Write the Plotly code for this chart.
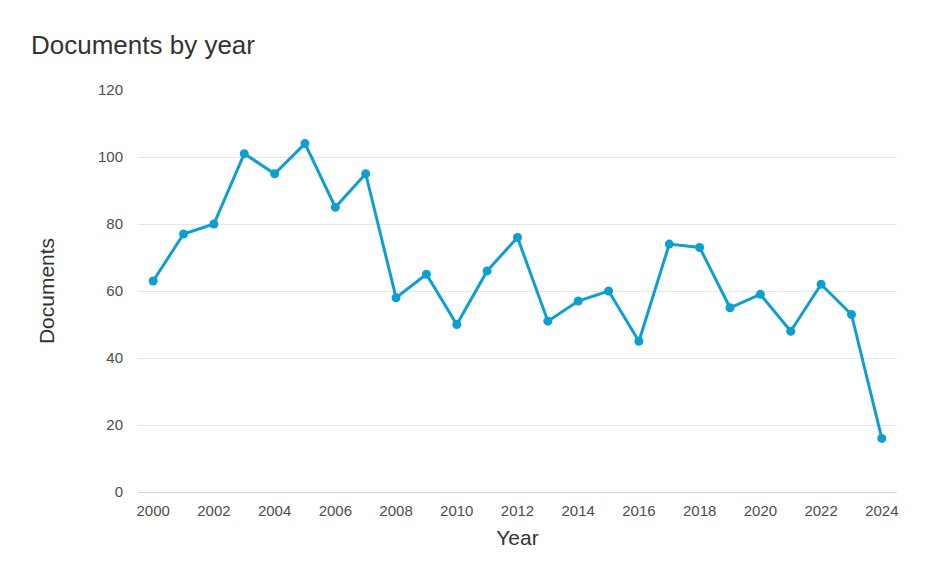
import plotly.graph_objects as go

years = list(range(2000, 2025))
documents = [63, 77, 80, 101, 95, 104, 85, 95, 58, 65, 50, 66, 76, 51, 57, 60, 45, 74, 73, 55, 59, 48, 62, 53, 16]
y_ticks = [0, 20, 40, 60, 80, 100, 120]
x_ticks = list(range(2000, 2025, 2))

line_color = "#0e9fd0"
font_family = "Liberation Sans, Arial, sans-serif"

W, H = 928, 568
L, R, T, B = 130, 39, 82, 84
pw, ph = W - L - R, H - T - B

fig = go.Figure()
fig.add_trace(go.Scatter(
    x=years, y=documents, mode="lines+markers",
    line=dict(color=line_color, width=3),
    marker=dict(color=line_color, size=9),
    hoverinfo="x+y", showlegend=False,
))

fig.update_layout(
    width=W, height=H,
    paper_bgcolor="white", plot_bgcolor="white",
    margin=dict(l=L, r=R, t=T, b=B),
    font=dict(family=font_family, color="#4d4d4d", size=14),
    title=dict(text="Documents by year", x=23/W, xanchor="left", y=1-37/H, yanchor="middle",
               font=dict(size=26, color="#333333", family=font_family)),
    xaxis=dict(
        range=[1999.5, 2024.5], tickmode="array", tickvals=x_ticks,
        ticktext=[str(t) for t in x_ticks],
        showgrid=False, zeroline=False, showline=True, linecolor="#ccd6eb", linewidth=1,
        ticks="", tickfont=dict(size=15, color="#4d4d4d"), ticklabelstandoff=5,
        title=dict(text="Year", font=dict(size=21, color="#333333"), standoff=12),
    ),
    yaxis=dict(
        range=[0, 120], tickmode="array", tickvals=y_ticks,
        showgrid=True, gridcolor="#e6e6e6", gridwidth=1, zeroline=False,
        ticks="", tickfont=dict(size=15, color="#4d4d4d"), ticklabelstandoff=14,
        title=dict(text="Documents", font=dict(size=21, color="#333333"), standoff=37),
    ),
    shapes=[
        dict(type="line", xref="paper", yref="paper", x0=1 + 35/pw, x1=1 + 35/pw,
             y0=-B/ph, y1=1 + T/ph, layer="above", line=dict(color="#dedede", width=2)),
    ],
)

fig.write_html("out.html")
